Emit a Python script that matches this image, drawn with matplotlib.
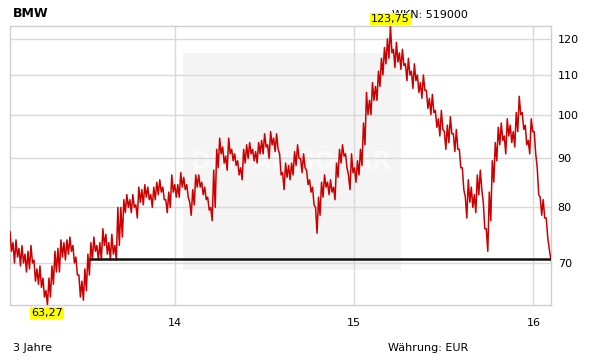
import matplotlib
matplotlib.use("Agg")
import matplotlib.pyplot as plt
import matplotlib.patches as patches
from matplotlib.ticker import NullLocator
import pandas as pd

START_DATE = "2013-01-31"
END_DATE = "2016-02-05"

# upper and lower edge of the price band,
# evenly spaced from START_DATE to END_DATE
BAND_HIGH = [
    75.5, 73.5, 74.0, 72.5, 73.0, 71.5, 72.0, 73.0, 70.5, 69.0,
    69.5, 67.5, 65.5, 67.5, 69.5, 72.0, 72.5, 74.0, 73.5, 74.0,
    74.5, 73.0, 71.0, 68.0, 67.0, 69.0, 71.5, 73.5, 74.5, 73.0,
    73.5, 76.0, 75.0, 73.5, 75.0, 73.0, 80.0,
    80.0, 81.5, 82.5, 81.5, 82.5, 80.5, 84.0, 83.5, 84.5, 84.0,
    82.5, 84.0, 85.0, 85.5, 84.0, 81.5, 83.0, 86.5, 84.5, 84.5,
    87.0, 86.0, 84.5, 81.0, 83.5, 86.5, 86.5, 85.0, 84.0, 82.0,
    80.0, 87.5,
    92.0, 94.5, 92.5, 90.5, 94.5, 92.0, 91.0, 89.5, 88.0, 92.0,
    93.0, 93.5, 92.0, 91.5, 93.5, 94.0, 95.5, 93.0, 96.0, 94.5,
    95.5, 91.0, 87.0, 89.0, 88.5, 89.0, 91.5, 93.0, 90.0, 91.0,
    87.5, 85.5, 84.0, 80.0, 82.0, 85.0, 86.5, 85.0, 85.5, 84.0,
    89.0, 92.0, 93.0, 91.0, 86.5, 91.0, 88.0, 89.5, 92.0,
    98.0, 105.5, 103.5, 108.0, 107.0, 111.0, 114.5, 117.5, 120.0, 123.75,
    117.0, 119.0, 116.0, 117.0, 113.0, 114.5, 111.0, 113.0, 110.0,
    108.0, 110.0, 106.0, 104.0, 105.0, 101.0, 99.0, 101.0, 96.0, 97.5,
    99.5, 95.5, 96.5, 92.0, 88.0, 82.0, 85.5, 84.0, 82.5, 86.5,
    87.5, 81.0, 76.0, 83.0, 89.5, 93.5, 97.0, 98.0, 95.0, 99.0,
    97.5, 96.0, 100.5, 104.5, 100.5, 97.5, 94.0, 99.0, 96.0, 88.0,
    82.0, 81.5, 78.0, 72.5,
]
BAND_LOW = [
    72.0, 70.0, 71.0, 69.5, 70.0, 68.5, 69.0, 70.0, 67.0, 66.5,
    66.0, 64.5, 63.27, 64.5, 66.5, 68.5, 68.5, 71.0, 70.5, 71.5,
    72.0, 70.0, 68.0, 64.5, 64.0, 65.5, 68.0, 70.5, 72.0, 70.5,
    70.5, 73.0, 71.5, 70.5, 71.5, 70.5, 73.0,
    74.5, 79.0, 80.0, 79.0, 80.0, 78.0, 81.0, 80.5, 82.0, 81.5,
    80.0, 81.5, 82.5, 83.0, 81.5, 79.0, 80.0, 83.0, 82.0, 82.0,
    84.0, 83.5, 82.0, 78.5, 80.5, 84.0, 84.0, 82.5, 81.5, 79.5,
    77.5, 80.0,
    88.0, 91.0, 89.0, 87.5, 91.0, 89.5, 88.5, 86.5, 85.5, 89.0,
    90.0, 91.0, 89.5, 89.0, 91.0, 91.0, 92.5, 90.0, 93.0, 91.5,
    92.0, 86.5, 83.5, 86.0, 85.5, 86.5, 88.5, 90.0, 87.0, 88.0,
    84.5, 83.0, 80.5, 75.2, 78.5, 82.0, 84.0, 82.5, 83.0, 81.5,
    86.0, 89.0, 90.5, 88.0, 83.5, 87.0, 85.0, 86.5, 88.5,
    93.0, 100.0, 100.0, 103.5, 103.5, 107.0, 110.0, 113.0, 114.5, 116.0,
    112.0, 113.5, 111.5, 112.5, 108.5, 110.0, 106.5, 108.5, 105.5,
    104.0, 106.0, 101.5, 100.0, 100.5, 97.0, 95.0, 96.5, 92.0, 93.5,
    95.5, 91.5, 92.0, 88.0, 83.5, 78.0, 81.0, 80.0, 79.0, 82.5,
    83.5, 76.0, 72.0, 77.5, 85.0, 89.5, 93.0, 94.0, 91.0, 95.0,
    93.5, 92.5, 96.0, 100.0, 96.5, 93.0, 91.0, 96.0, 91.0, 82.5,
    78.5, 78.0, 74.5, 70.74,
]

Y_TICKS = [70, 80, 90, 100, 110, 120]
X_TICK_DATES = ["2014-01-01", "2015-01-01", "2016-01-01"]
X_TICK_LABELS = ["14", "15", "16"]

LOW_LABEL = "63,27"
HIGH_LABEL = "123,75"
SUPPORT_LEVEL = 70.74
SUPPORT_START = "2013-07-11"

LINE_RED = "#cc0000"
GRID_GREY = "#d9d9d9"


def main():
    values = [v for pair in zip(BAND_HIGH, BAND_LOW) for v in pair]
    dates = pd.date_range(START_DATE, END_DATE, periods=len(values))
    prices = pd.Series(values, index=dates)

    W, H = 611, 364
    fig = plt.figure(figsize=(W / 100, H / 100), dpi=100)
    ax = fig.add_axes([10 / W, (H - 305) / H, 540.7 / W, 279 / H])

    # watermark panel behind the grid
    ax.add_patch(patches.Rectangle((183 / W, (H - 270) / H), 218 / W, 217 / H,
                                   transform=fig.transFigure, facecolor="#f4f4f4",
                                   edgecolor="none", zorder=0.1, clip_on=False))
    ax.text(291 / W, (H - 162) / H, "DER AKTIONÄR", transform=fig.transFigure,
            ha="center", va="center", fontsize=17, fontweight="bold",
            color="#fafafa", zorder=0.2)
    ax.set_axisbelow(True)

    ax.plot(prices.index, prices.values, color=LINE_RED, linewidth=1.1, zorder=3)
    ax.hlines(SUPPORT_LEVEL, pd.Timestamp(SUPPORT_START), dates[-1], color="#111111",
              linewidth=1.8, zorder=4)

    ax.set_yscale("log")
    ax.set_ylim(prices.min(), prices.max())
    ax.set_xlim(dates[0], dates[-1])
    ax.yaxis.tick_right()
    ax.set_yticks(Y_TICKS)
    ax.set_yticklabels([str(t) for t in Y_TICKS])
    ax.yaxis.set_minor_locator(NullLocator())
    ax.set_xticks([pd.Timestamp(d) for d in X_TICK_DATES])
    ax.set_xticklabels(X_TICK_LABELS)
    ax.tick_params(axis="y", length=0, pad=5, labelsize=8)
    ax.tick_params(axis="x", length=0, pad=9, labelsize=8)
    ax.grid(True, color=GRID_GREY, linewidth=1)
    for spine in ax.spines.values():
        spine.set_color("#cfcfcf")
        spine.set_linewidth(1)

    low_date = prices.idxmin()
    high_date = prices.idxmax()
    ax.annotate(HIGH_LABEL, xy=(high_date, prices.max()), xytext=(0, 1.5),
                textcoords="offset points", ha="center", va="bottom", fontsize=8,
                bbox=dict(facecolor="#ffff00", edgecolor="none", pad=0.8),
                annotation_clip=False, zorder=6)
    ax.annotate(LOW_LABEL, xy=(low_date, prices.min()), xytext=(0, -2),
                textcoords="offset points", ha="center", va="top", fontsize=8,
                bbox=dict(facecolor="#ffff00", edgecolor="none", pad=0.8),
                annotation_clip=False, zorder=6)

    fig.text(13 / W, (H - 17) / H, "BMW", fontsize=9, fontweight="bold", va="baseline")
    # the high label box sits on top of this text in the original
    fig.text(392 / W, (H - 17.5) / H, "WKN: 519000", fontsize=8, va="baseline", zorder=-1)
    fig.text(13 / W, (H - 351) / H, "3 Jahre", fontsize=8, va="baseline")
    fig.text(388 / W, (H - 351) / H, "Währung: EUR", fontsize=8, va="baseline")

    fig.savefig("out.png", dpi=100)
    plt.close(fig)


if __name__ == "__main__":
    main()
